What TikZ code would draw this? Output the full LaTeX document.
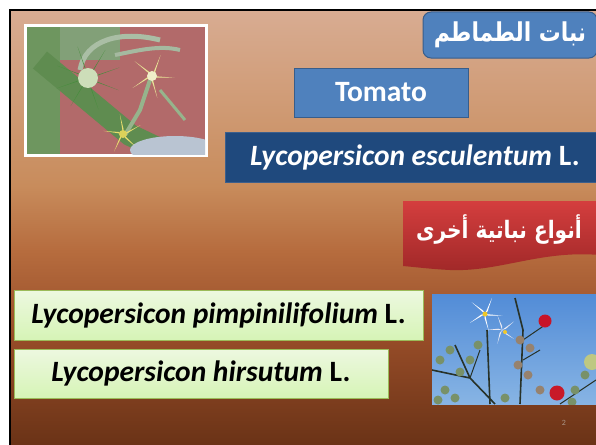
\documentclass[tikz,border=0pt]{standalone}
\usepackage{fontspec}
\setmainfont{Carlito}
\newfontfamily\arabicfont[Script=Arabic, FakeStretch=0.84]{DejaVu Sans}
\TeXXeTstate=1
\definecolor{bgtop}{RGB}{216,172,146}
\definecolor{bgmid}{RGB}{200,140,92}
\definecolor{bgmid2}{RGB}{182,108,62}
\definecolor{bglow}{RGB}{150,76,40}
\definecolor{bgbot}{RGB}{105,50,22}
\definecolor{bluefill}{RGB}{79,129,189}
\definecolor{blueedge}{RGB}{56,93,138}
\definecolor{navyfill}{RGB}{31,73,125}
\definecolor{navyedge}{RGB}{60,95,140}
\definecolor{redtop}{RGB}{212,62,62}
\definecolor{redbot}{RGB}{160,40,40}
\definecolor{greentop}{RGB}{237,248,224}
\definecolor{greenbot}{RGB}{214,244,182}
\definecolor{greenedge}{RGB}{155,187,89}
\definecolor{pagegray}{RGB}{170,150,135}
\pgfdeclareverticalshading{slidebg}{100bp}{color(0bp)=(bgbot); color(25bp)=(bgbot); color(37.5bp)=(bglow); color(47.5bp)=(bgmid2); color(55bp)=(bgmid); color(75bp)=(bgtop); color(100bp)=(bgtop)}
\tikzset{
  bigtext/.style={font=\fontsize{29.5}{33}\selectfont\bfseries},
  titlebox/.style={draw=blueedge, line width=1pt, fill=bluefill, rounded corners=8pt, text=white, inner sep=0pt},
  bluebox/.style={draw=blueedge, line width=1pt, fill=bluefill, text=white, inner sep=0pt},
  navybox/.style={draw=navyedge, line width=1pt, fill=navyfill, text=white, inner sep=0pt},
  greenbox/.style={draw=greenedge, line width=1pt, top color=greentop, bottom color=greenbot, text=black, inner sep=0pt},
}
\begin{document}
\begin{tikzpicture}[x=1pt,y=-1pt]
\useasboundingbox (0,0) rectangle (596,444);
\fill[white] (0,0) rectangle (596,444);
\begin{scope}
\clip (0,0) rectangle (596,444);
% slide background
\shade[shading=slidebg] (10,10) rectangle (600,448);
\draw[black, line width=2.5pt] (10,10) rectangle (600,448);

% ---- photo 1 (tomato flowers) ----
\fill[white] (24,24) rectangle (208,157);
\begin{scope}
\clip (27,27) rectangle (205,154);
\fill[fill={rgb,255:red,178;green,106;blue,106}] (27,27) rectangle (205,154);
\fill[fill={rgb,255:red,130;green,160;blue,120}] (27,27) rectangle (120,60);
\fill[fill={rgb,255:red,110;green,150;blue,95}] (27,27) -- (60,27) -- (60,154) -- (27,154) -- cycle;
\draw[line width=22pt, color={rgb,255:red,95;green,140;blue,80}] (40,60) -- (130,135) -- (170,154);
\draw[line width=5pt, color={rgb,255:red,170;green,190;blue,165}] (80,70) .. controls (85,40) and (120,30) .. (160,40);
\draw[line width=4pt, color={rgb,255:red,165;green,185;blue,160}] (115,55) .. controls (140,50) and (160,45) .. (180,50);
\draw[line width=4pt, color={rgb,255:red,150;green,180;blue,140}] (150,80) -- (140,110) -- (125,135);
\draw[line width=3pt, color={rgb,255:red,150;green,180;blue,140}] (160,90) -- (185,120);
% green bud with sepals
\foreach \a in {20,70,120,160,200,250,300,340}{
  \fill[color={rgb,255:red,70;green,140;blue,60}] (88,78) -- ++(\a+8:7) -- ++(\a:26) -- cycle;
}
\fill[color={rgb,255:red,205;green,222;blue,185}] (88,78) circle (10);
% yellow flowers
\foreach \a in {0,72,144,216,288}{
  \fill[color={rgb,255:red,232;green,228;blue,150}] (152,76) -- ++(\a+20:5) -- ++(\a:18) -- cycle;
  \fill[color={rgb,255:red,232;green,222;blue,110}] (123,134) -- ++(\a+60:5) -- ++(\a+40:15) -- cycle;
}
\fill[color={rgb,255:red,240;green,238;blue,200}] (152,76) circle (5);
\fill[color={rgb,255:red,220;green,210;blue,90}] (123,134) circle (4);
% grey-blue fuzzy blob
\fill[color={rgb,255:red,185;green,196;blue,210}] (175,150) ellipse (45 and 14);
\end{scope}

% ---- photo 2 (wild plant) ----
\begin{scope}
\clip (432,294) rectangle (596,404);
\shade[top color={rgb,255:red,82;green,140;blue,215}, bottom color={rgb,255:red,135;green,180;blue,228}] (432,294) rectangle (596,404);
\draw[line width=1.6pt, color={rgb,255:red,40;green,50;blue,40}] (490,404) -- (487,330) (520,404) -- (523,330) -- (515,298) (432,370) -- (470,378) -- (495,404) (455,345) -- (470,378);
\draw[line width=1pt, color={rgb,255:red,40;green,50;blue,40}] (523,340) -- (545,325) (523,360) -- (540,350) (470,378) -- (480,350) (560,404) -- (596,380);
\foreach \p in {(440,360),(450,350),(460,372),(470,360),(478,345),(445,390),(575,390),(585,375),(438,400),(455,398),(505,398),(572,402)}{
  \fill[color={rgb,255:red,120;green,145;blue,105}] \p circle (4.5);
}
\foreach \a in {0,72,144,216,288}{
  \fill[white] (485,314) -- ++(\a+25:4) -- ++(\a:14) -- cycle;
  \fill[color={rgb,255:red,235;green,235;blue,245}] (502,330) -- ++(\a+55:4) -- ++(\a+30:11) -- cycle;
}
\fill[color={rgb,255:red,240;green,200;blue,40}] (485,314) circle (2.5);
\fill[color={rgb,255:red,240;green,200;blue,40}] (505,332) circle (2);
\foreach \p in {(520,340),(530,348),(518,365),(528,375),(540,390)}{
  \fill[color={rgb,255:red,150;green,130;blue,110}] \p circle (4.5);
}
\fill[color={rgb,255:red,200;green,20;blue,40}] (545,321) circle (6.5);
\fill[color={rgb,255:red,200;green,25;blue,40}] (557,393) circle (7.5);
\fill[color={rgb,255:red,190;green,200;blue,130}] (592,362) circle (8);
\end{scope}

% ---- boxes ----
\node[titlebox, minimum width=174pt, minimum height=46pt, font=\arabicfont\fontsize{26}{30}\selectfont\bfseries] (title) at (510,35) {\beginR نبات الطماطم\endR};
\node[bluebox, bigtext, minimum width=174pt, minimum height=49pt] (tomato) at (381,92.5) {Tomato};
\node[navybox, bigtext, minimum width=380pt, minimum height=50pt] (escul) at (415,157) {\textit{Lycopersicon esculentum} L.};

\shade[top color=redtop, bottom color=redbot] (403,201) -- (600,201) -- (600,255) .. controls (540,250) and (500,272) .. (450,270) .. controls (430,269) and (415,267) .. (403,266) -- cycle;
\node[text=white, font=\arabicfont\fontsize{24}{28}\selectfont\bfseries, inner sep=0pt] (other) at (499,230) {\beginR أنواع نباتية أخرى\endR};

\node[greenbox, bigtext, minimum width=409pt, minimum height=50pt] (pimp) at (218.5,315) {\textit{Lycopersicon pimpinilifolium} L.};
\node[greenbox, bigtext, minimum width=374pt, minimum height=49pt] (hirs) at (201,373.5) {\textit{Lycopersicon hirsutum} L.};

\node[text=pagegray, font=\fontsize{8}{9}\selectfont, inner sep=0pt] (page) at (564,423) {2};
\end{scope}
\end{tikzpicture}
\end{document}
